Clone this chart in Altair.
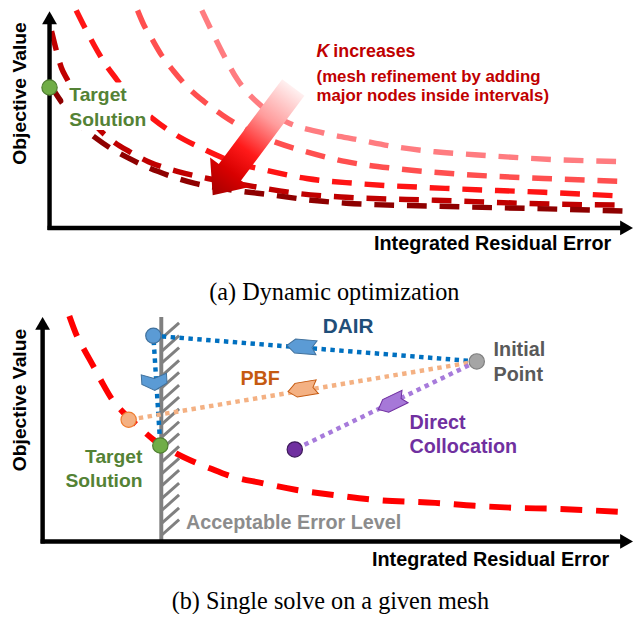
import math
import altair as alt
import pandas as pd

SANS = "Liberation Sans"
SERIF = "Liberation Serif"

# ============ Panel (a): Dynamic optimization ============
# frame: x = integrated residual error, y = objective value (axis corner = 0,0)
k_curve_names = ["K1", "K2", "K3", "K4", "K5"]
k_curve_colors = ["#FF7C80", "#FF4F4F", "#FF1414", "#C00000", "#8E0000"]
k1_x = [154, 165, 175, 190, 210, 240, 277, 313, 350, 390, 430, 513, 582]
k1_y = [220, 197, 177, 150, 127, 107, 96, 89, 82, 77, 74, 69, 67]
k2_x = [89, 95, 103, 113, 126, 140, 156, 175, 198, 225, 260, 300, 350, 420, 500, 582]
k2_y = [220, 206, 192, 175, 158, 142, 128, 114, 100, 88, 77, 67, 60, 54, 50, 47]
k3_x = [27, 36, 45, 55, 68, 85, 105, 128, 155, 185, 220, 260, 310, 400, 500, 582]
k3_y = [220, 202, 185, 168, 150, 128, 110, 94, 80, 67, 58, 50, 45, 40, 36, 32]
k4_x = [2, 7, 12, 18, 30, 48, 65, 81, 100, 130, 160, 200, 250, 300, 390, 513, 582]
k4_y = [199, 179, 162, 150, 127, 102, 87, 77, 67, 57, 50, 43, 35, 31, 28, 24, 23]
k5_x = [2, 7, 11, 25, 48, 81, 110, 147, 180, 227, 265, 300, 390, 513, 582]
k5_y = [143, 135, 129, 110, 90, 70, 57, 45, 39, 33, 28, 25, 22, 19, 17]

target_a_x = [0]
target_a_y = [142]
# white text box behind the "Target Solution" label of panel (a)
label_box_a = {"x": [14], "x2": [102], "y": [99], "y2": [147]}

k_arrow_tail = (246.5, 142)
k_arrow_tip = (165, 33)

# ============ Panel (b): Single solve on a given mesh ============
red_b_x = [27, 35, 42, 52, 60, 70, 82, 97, 112, 135, 154, 169, 187, 222, 257, 294, 337, 397, 437, 477, 517, 582]
red_b_y = [228, 207, 194, 176, 161, 144, 130, 116, 103, 89, 80, 74, 67, 59, 52, 47, 42, 39, 36, 34, 33, 30]

acceptable_error = 120
hatch_y = [6, 18, 31, 43, 56, 68, 80, 93, 105, 118, 130, 142, 155, 167, 180, 192, 205]

method_names = ["DAIR", "PBF", "Direct Collocation"]
initial_point = (439, 182)
method_end_x = [112, 87, 255]
method_end_y = [208, 123, 93]
target_b = (119, 97)
chev_x = [262, 263, 353]
chev_y = [197, 154, 140]
dair_chev2 = (113, 161)

dot_names = ["Initial Point", "DAIR", "PBF", "Direct Collocation", "Target Solution"]
dot_x = [initial_point[0]] + method_end_x + [target_b[0]]
dot_y = [initial_point[1]] + method_end_y + [target_b[1]]

# ============ layout / scales ============
W, H = 632, 606
xa = alt.Scale(domain=[-42, 590], nice=False, zero=False)
ya = alt.Scale(domain=[-387, 219], nice=False, zero=False)
xb = alt.Scale(domain=[-35, 597], nice=False, zero=False)
yb = alt.Scale(domain=[-70, 536], nice=False, zero=False)


def xy(xs, ys, xf="x", yf="y"):
    return dict(x=alt.X(f"{xf}:Q", scale=xs, axis=None),
                y=alt.Y(f"{yf}:Q", scale=ys, axis=None))


def text_layer(texts, tx, ty, xs, ys, color, size, align="left",
               weight="bold", font=SANS, angle=0, style="normal"):
    df = pd.DataFrame({"t": texts, "x": tx, "y": ty})
    return alt.Chart(df).mark_text(
        align=align, baseline="middle", font=font, fontSize=size,
        fontWeight=weight, fontStyle=style, color=color, angle=angle
    ).encode(text="t:N", **xy(xs, ys))


def rule_layer(df, xs, ys, color, width, cap="butt"):
    return alt.Chart(df).mark_rule(color=color, strokeWidth=width, strokeCap=cap).encode(
        x2="x2:Q", y2="y2:Q", **xy(xs, ys))


def heads_layer(df, xs, ys):
    return alt.Chart(df).mark_point(filled=True, opacity=1, color="black",
                                    size=225, strokeWidth=0).encode(
        shape=alt.Shape("s:N", scale=None), **xy(xs, ys))


def screen_angle(x0, y0, x1, y1):
    return (math.degrees(math.atan2(-(y1 - y0), x1 - x0)) + 360) % 360


# ---------------- panel (a) layers ----------------
rows = []
for n, xs_, ys_ in zip(k_curve_names, [k1_x, k2_x, k3_x, k4_x, k5_x],
                       [k1_y, k2_y, k3_y, k4_y, k5_y]):
    for i, (cx, cy) in enumerate(zip(xs_, ys_)):
        rows.append({"curve": n, "i": i, "x": cx, "y": cy})
curves_a = alt.Chart(pd.DataFrame(rows)).mark_line(
    strokeWidth=5.5, strokeDash=[20, 13], interpolate="monotone"
).encode(
    color=alt.Color("curve:N", scale=alt.Scale(domain=k_curve_names, range=k_curve_colors), legend=None),
    order=alt.Order("i:Q"), **xy(xa, ya))

arrow_len = math.hypot(k_arrow_tip[0] - k_arrow_tail[0], k_arrow_tip[1] - k_arrow_tail[1])
arrow_df = pd.DataFrame({
    "x": [(k_arrow_tail[0] + k_arrow_tip[0]) / 2],
    "y": [(k_arrow_tail[1] + k_arrow_tip[1]) / 2],
    "angle": [screen_angle(*k_arrow_tail, *k_arrow_tip)],
})
ARROW_PATH = "M-0.97,-0.2L0.556,-0.2L0.556,-0.357L0.97,0L0.556,0.357L0.556,0.2L-0.97,0.2Z"
grad = alt.Gradient(
    gradient="linear", x1=0, y1=0, x2=1, y2=0,
    stops=[alt.GradientStop(color="#FFF0F0", offset=0),
           alt.GradientStop(color="#FF9C9C", offset=0.3),
           alt.GradientStop(color="#FF1A1A", offset=0.58),
           alt.GradientStop(color="#D80000", offset=0.78),
           alt.GradientStop(color="#A30000", offset=1)])
k_arrow = alt.Chart(arrow_df).mark_point(
    shape=ARROW_PATH, filled=True, fill=grad, opacity=1, strokeWidth=0,
    size=(arrow_len / 0.97) ** 2
).encode(angle=alt.Angle("angle:Q", scale=None), **xy(xa, ya))

box_a = alt.Chart(pd.DataFrame(label_box_a)).mark_rect(color="white", opacity=1).encode(
    x2="x2:Q", y2="y2:Q", **xy(xa, ya))

axes_a = rule_layer(pd.DataFrame({"x": [0, -2], "y": [-2, 0], "x2": [0, 583.5], "y2": [212.5, 0]}),
                    xa, ya, "black", 4.5)
heads_a = heads_layer(pd.DataFrame({"x": [0, 583.5], "y": [212.5, 0],
                                    "s": ["triangle-up", "triangle-right"]}), xa, ya)
dot_a = alt.Chart(pd.DataFrame({"x": target_a_x, "y": target_a_y})).mark_point(
    shape="circle", filled=True, fill="#70AD47", stroke="#507E32", strokeWidth=1.2,
    opacity=1, size=240).encode(**xy(xa, ya))

texts_a = [
    text_layer(["Target", "Solution"], [20, 20], [134.5, 109.5], xa, ya, "#548235", 19.5),
    text_layer(["K"], [270], [178], xa, ya, "#C00000", 18, style="italic"),
    text_layer(["increases"], [287], [178], xa, ya, "#C00000", 18),
    text_layer(["(mesh refinement by adding", "major nodes inside intervals)"],
               [270, 270], [153, 133], xa, ya, "#C00000", 17),
    text_layer(["Objective Value"], [-29.5], [136], xa, ya, "black", 19.5, align="center", angle=270),
    text_layer(["Integrated Residual Error"], [568], [-16], xa, ya, "black", 20, align="right"),
    text_layer(["(a) Dynamic optimization"], [288], [-66], xa, ya, "black", 24.5,
               align="center", weight="normal", font=SERIF),
]

panel_a = alt.layer(curves_a, k_arrow, box_a, axes_a, heads_a, dot_a, *texts_a)

# ---------------- panel (b) layers ----------------
red_b = alt.Chart(pd.DataFrame({"x": red_b_x, "y": red_b_y, "i": range(len(red_b_x))})).mark_line(
    color="#FF0000", strokeWidth=6, strokeDash=[22, 14], interpolate="monotone"
).encode(order=alt.Order("i:Q"), **xy(xb, yb))

wall = rule_layer(pd.DataFrame({"x": [acceptable_error], "y": [0], "x2": [acceptable_error], "y2": [227]}),
                  xb, yb, "#808080", 4)
hatches = rule_layer(pd.DataFrame({"x": [acceptable_error] * len(hatch_y), "y": hatch_y,
                                   "x2": [acceptable_error + 18] * len(hatch_y),
                                   "y2": [h + 16 for h in hatch_y]}),
                     xb, yb, "#808080", 3)

path_rows = []
for m, ex, ey in zip(method_names, method_end_x, method_end_y):
    pts = [initial_point, (ex, ey)]
    if m == "DAIR":
        pts.append(target_b)
    for i, (px, py) in enumerate(pts):
        path_rows.append({"method": m, "i": i, "x": px, "y": py})
paths_b = alt.Chart(pd.DataFrame(path_rows)).mark_line(
    strokeWidth=4.5, strokeDash=[4.5, 4.5]
).encode(
    color=alt.Color("method:N", scale=alt.Scale(domain=method_names,
                                                range=["#0070C0", "#F4B183", "#A77BDB"]), legend=None),
    order=alt.Order("i:Q"), **xy(xb, yb))

chev_fill = alt.Scale(domain=method_names, range=["#5B9BD5", "#F4B183", "#A678D8"])
chev_stroke = alt.Scale(domain=method_names, range=["#41719C", "#C55A11", "#7030A0"])
H_CHEV = "M-1,-0.47L0.45,-0.47L1,0L0.45,0.47L-1,0.47L-0.7,0Z"
V_CHEV = "M-0.55,-0.85L0.1,-0.85L0.55,0L0.1,0.85L-0.55,0.85L-0.25,0Z"
chev_df = pd.DataFrame({
    "method": method_names, "x": chev_x, "y": chev_y,
    "angle": [screen_angle(*initial_point, ex, ey) for ex, ey in zip(method_end_x, method_end_y)],
})
chev2_df = pd.DataFrame({
    "method": ["DAIR"], "x": [dair_chev2[0]], "y": [dair_chev2[1]],
    "angle": [screen_angle(method_end_x[0], method_end_y[0], *target_b)],
})


def chevrons(df, path):
    return alt.Chart(df).mark_point(shape=path, filled=True, opacity=1, size=900, strokeWidth=1).encode(
        angle=alt.Angle("angle:Q", scale=None),
        fill=alt.Fill("method:N", scale=chev_fill, legend=None),
        stroke=alt.Stroke("method:N", scale=chev_stroke, legend=None),
        **xy(xb, yb))


chev_layer = chevrons(chev_df, H_CHEV)
chev2_layer = chevrons(chev2_df, V_CHEV)

dots_b = alt.Chart(pd.DataFrame({"name": dot_names, "x": dot_x, "y": dot_y})).mark_point(
    shape="circle", filled=True, opacity=1, size=240, strokeWidth=1.2
).encode(
    fill=alt.Fill("name:N", scale=alt.Scale(domain=dot_names,
                  range=["#A5A5A5", "#5B9BD5", "#F4B183", "#7030A0", "#70AD47"]), legend=None),
    stroke=alt.Stroke("name:N", scale=alt.Scale(domain=dot_names,
                      range=["#7F7F7F", "#41719C", "#ED7D31", "#3D1A5B", "#507E32"]), legend=None),
    **xy(xb, yb))

axes_b = rule_layer(pd.DataFrame({"x": [0, -2], "y": [-2, 0], "x2": [0, 590.5], "y2": [220.5, 0]}),
                    xb, yb, "black", 4.5)
heads_b = heads_layer(pd.DataFrame({"x": [0, 590.5], "y": [220.5, 0],
                                    "s": ["triangle-up", "triangle-right"]}), xb, yb)

texts_b = [
    text_layer(["DAIR"], [309], [216.5], xb, yb, "#1F4E79", 21, align="center"),
    text_layer(["PBF"], [220], [164.5], xb, yb, "#C55A11", 20, align="center"),
    text_layer(["Initial", "Point"], [456, 456], [193, 168], xb, yb, "#595959", 20),
    text_layer(["Direct", "Collocation"], [371, 371], [120, 95], xb, yb, "#7030A0", 20),
    text_layer(["Target", "Solution"], [101, 101], [85, 61], xb, yb, "#548235", 19.5, align="right"),
    text_layer(["Acceptable Error Level"], [145], [19], xb, yb, "#8C8C8C", 20),
    text_layer(["Objective Value"], [-23], [143], xb, yb, "black", 19.5, align="center", angle=270),
    text_layer(["Integrated Residual Error"], [573], [-19], xb, yb, "black", 20, align="right"),
    text_layer(["(b) Single solve on a given mesh"], [291], [-61], xb, yb, "black", 24.5,
               align="center", weight="normal", font=SERIF),
]

panel_b = alt.layer(red_b, wall, hatches, paths_b, chev_layer, chev2_layer, dots_b,
                    axes_b, heads_b, *texts_b).resolve_scale(
    fill="independent", stroke="independent", color="independent")

chart = alt.layer(panel_a, panel_b).resolve_scale(
    x="independent", y="independent", color="independent",
    fill="independent", stroke="independent"
).properties(
    width=W, height=H, padding=0, background="white",
    autosize=alt.AutoSizeParams(type="none")
).configure_view(stroke=None)

chart.save("out.html", embed_options={"renderer": "svg", "actions": False})
